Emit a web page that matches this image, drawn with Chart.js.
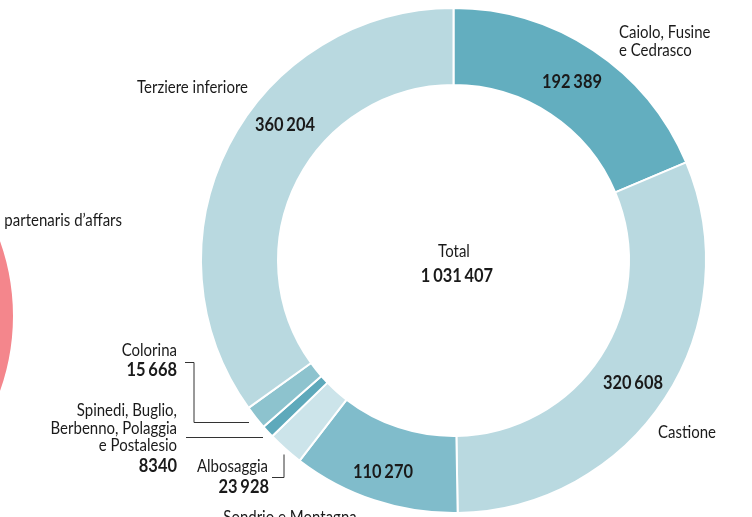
<!DOCTYPE html>
<html>
<head>
<meta charset="utf-8">
<script src="https://cdn.jsdelivr.net/npm/chart.js@4.4.1/dist/chart.umd.min.js"></script>
<style>
  html, body { margin: 0; padding: 0; background: #fff; overflow: hidden; }
  #wrap { position: relative; width: 752px; height: 517px; overflow: hidden; }
  #side { position: absolute; left: -433px; top: 93px; }
  #main { position: absolute; left: 0; top: 0; }
</style>
</head>
<body>
<div id="wrap">
  <div id="side"><canvas id="sideChart" width="446" height="446"></canvas></div>
  <div id="main"><canvas id="mainChart" width="752" height="517"></canvas></div>
</div>
<script>
// 地区 (時計回り、上から)
const areas = [
    ['Caiolo, Fusine', 'e Cedrasco'],
    ['Castione'],
    ['Sondrio e Montagna'],
    ['Albosaggia'],
    ['Spinedi, Buglio,', 'Berbenno, Polaggia', 'e Postalesio'],
    ['Colorina'],
    ['Terziere inferiore']
];
const values = [192389, 320608, 110270, 23928, 8340, 15668, 360204];
const colors = ['#63aebf', '#b9d9e0', '#80bccb', '#cce4ea', '#5ea9bb', '#8dc3ce', '#b9d9e0'];

// 左の切れたチャート
const sideLabel = 'partenaris d\u2019affars';
const sideValues = [1];
const sideColors = ['#f4868c'];

const totalLabel = 'Total';

const nameFont = '17.5px Lato, "Open Sans", sans-serif';
const numFont = 'bold 18px Lato, "Open Sans", sans-serif';

// 数字の書式 (1万以上はスペース区切り)
function fmt(n) {
    if (n < 10000) return String(n);
    return String(n).replace(/\B(?=(\d{3})+(?!\d))/g, '\u2006');
}

// ラベル位置 (x, baseline, align)
const namePos = [
    { x: 619, y: 38, align: 'left' },
    { x: 658, y: 438, align: 'left' },
    { x: 290, y: 523, align: 'center' },
    { x: 268, y: 472, align: 'right' },
    { x: 177, y: 416, align: 'right' },
    { x: 177, y: 356, align: 'right' },
    { x: 248, y: 93, align: 'right' }
];
const valuePos = [
    { x: 572, y: 88, align: 'center' },
    { x: 633, y: 389, align: 'center' },
    { x: 383, y: 478, align: 'center' },
    { x: 269, y: 493, align: 'right' },
    { x: 177, y: 472, align: 'right' },
    { x: 177, y: 376, align: 'right' },
    { x: 285, y: 131, align: 'center' }
];
// 引き出し線
const leaders = [
    [[185, 362], [194, 362], [194, 422], [249, 422]],
    [[186, 437], [263, 437]],
    [[272, 477], [284, 477], [284, 454]]
];

// 横に縮めて書く (細い書体の代わり)
function drawText(c, t, x, y, align, font, sx) {
    c.save();
    c.font = font;
    c.textAlign = align;
    c.translate(x, y);
    c.scale(sx, 1);
    c.fillText(t, 0, 0);
    c.restore();
}

const labelPlugin = {
    id: 'labelPlugin',
    afterDraw(chart) {
        const c = chart.ctx;
        c.save();
        c.fillStyle = '#1a1a1a';
        c.textBaseline = 'alphabetic';

        // 幅合わせ
        c.font = nameFont;
        const sxName = 111 / c.measureText('Terziere inferiore').width;
        c.font = numFont;
        const sxNum = 60 / c.measureText(fmt(360204)).width;

        areas.forEach((lines, i) => {
            lines.forEach((t, k) => drawText(c, t, namePos[i].x, namePos[i].y + k * 17.5, namePos[i].align, nameFont, sxName));
            drawText(c, fmt(values[i]), valuePos[i].x, valuePos[i].y, valuePos[i].align, numFont, sxNum);
        });

        // 中央
        const total = values.reduce((a, b) => a + b, 0);
        drawText(c, totalLabel, 454, 257, 'center', nameFont, sxName);
        drawText(c, fmt(total), 457, 282, 'center', numFont, sxNum);

        drawText(c, sideLabel, 122, 226, 'right', nameFont, sxName);

        c.strokeStyle = '#333';
        c.lineWidth = 1;
        leaders.forEach(pts => {
            c.beginPath();
            pts.forEach((p, j) => j ? c.lineTo(p[0], p[1] + 0.5) : c.moveTo(p[0], p[1] + 0.5));
            c.stroke();
        });
        c.restore();
    }
};

new Chart(document.getElementById('sideChart'), {
    type: 'pie',
    data: {
        labels: [sideLabel],
        datasets: [{ data: sideValues, backgroundColor: sideColors, borderWidth: 0 }]
    },
    options: {
        responsive: false,
        animation: false,
        plugins: { legend: { display: false }, tooltip: { enabled: false } }
    }
});

new Chart(document.getElementById('mainChart'), {
    type: 'doughnut',
    data: {
        labels: areas.map(a => a.join(' ')),
        datasets: [{
            data: values,
            backgroundColor: colors,
            borderColor: '#ffffff',
            borderWidth: 2
        }]
    },
    options: {
        responsive: false,
        animation: false,
        cutout: '69.5%',
        layout: { padding: { left: 200, right: 45, top: 7, bottom: 3 } },
        plugins: { legend: { display: false }, tooltip: { enabled: false } }
    },
    plugins: [labelPlugin]
});
</script>
</body>
</html>
